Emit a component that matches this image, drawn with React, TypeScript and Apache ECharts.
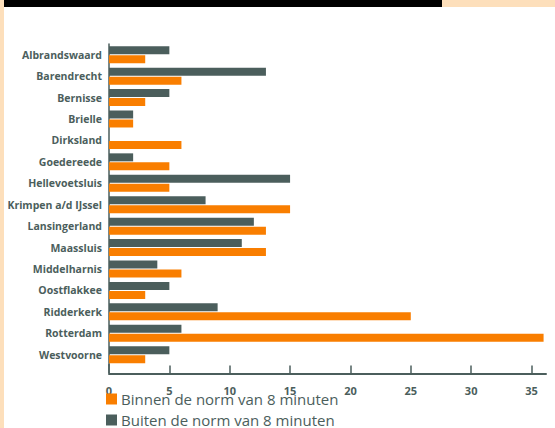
import React, { useEffect, useRef } from "react";
import * as echarts from "echarts";

const categories = [
  "Albrandswaard",
  "Barendrecht",
  "Bernisse",
  "Brielle",
  "Dirksland",
  "Goedereede",
  "Hellevoetsluis",
  "Krimpen a/d IJssel",
  "Lansingerland",
  "Maassluis",
  "Middelharnis",
  "Oostflakkee",
  "Ridderkerk",
  "Rotterdam",
  "Westvoorne",
];
const buitenNorm = [5, 13, 5, 2, 0, 2, 15, 8, 12, 11, 4, 5, 9, 6, 5];
const binnenNorm = [3, 6, 3, 2, 6, 5, 5, 15, 13, 13, 6, 3, 25, 36, 3];
const tickValues = [0, 5, 10, 15, 20, 25, 30, 35];
const seriesNames = ["Binnen de norm van 8 minuten", "Buiten de norm van 8 minuten"];

const DARK = "#4b5e5c";
const ORANGE = "#f97e00";
const PEACH = "#fddfbb";

export default function App() {
  const ref = useRef<HTMLDivElement>(null);
  useEffect(() => {
    document.body.style.margin = "0";
    const chart = echarts.init(ref.current!, null, { renderer: "svg" });
    chart.setOption({
      animation: false,
      backgroundColor: "#ffffff",
      grid: { left: 109, right: 9, top: 44, bottom: 62.6, containLabel: false },
      legend: {
        orient: "vertical",
        left: 106,
        top: 391,
        itemWidth: 11,
        itemHeight: 11,
        itemGap: 5,
        icon: "rect",
        data: seriesNames,
        textStyle: {
          fontFamily: "Open Sans",
          fontSize: 15,
          color: DARK,
          lineHeight: 16,
          padding: [0, 0, 0, -1],
        },
        padding: 0,
      },
      xAxis: {
        type: "value",
        min: 0,
        max: 36.2,
        interval: 5,
        offset: 8,
        splitLine: { show: false },
        axisLine: { show: true, lineStyle: { color: DARK, width: 2 } },
        axisTick: {
          show: true,
          inside: true,
          length: 8,
          lineStyle: { color: DARK, width: 1.5 },
          customValues: tickValues,
        },
        axisLabel: {
          customValues: tickValues,
          margin: 12,
          fontFamily: "Open Sans",
          fontWeight: "bold",
          fontSize: 11,
          color: DARK,
        },
      },
      yAxis: {
        type: "category",
        inverse: true,
        data: categories,
        axisLine: { show: true, lineStyle: { color: DARK, width: 1.5 } },
        axisTick: { show: false },
        axisLabel: {
          margin: 7,
          fontFamily: "Open Sans",
          fontWeight: "bold",
          fontSize: 10.5,
          color: DARK,
        },
      },
      series: [
        {
          name: seriesNames[1],
          type: "bar",
          data: buitenNorm,
          barWidth: 8,
          barGap: "12.5%",
          itemStyle: { color: DARK },
        },
        {
          name: seriesNames[0],
          type: "bar",
          data: binnenNorm,
          barWidth: 8,
          barGap: "12.5%",
          itemStyle: { color: ORANGE },
        },
      ],
      graphic: [
        { type: "rect", shape: { x: 0, y: 0, width: 4, height: 428 }, style: { fill: PEACH } },
        { type: "rect", shape: { x: 4, y: 0, width: 438, height: 7 }, style: { fill: "#000000" } },
        { type: "rect", shape: { x: 442, y: 0, width: 113, height: 7 }, style: { fill: PEACH } },
        {
          type: "line",
          shape: { x1: 109, y1: 364, x2: 109, y2: 373 },
          style: { stroke: DARK, lineWidth: 1.5 },
        },
      ],
    });
    return () => chart.dispose();
  }, []);
  return (
    <div
      ref={ref}
      style={{ position: "absolute", left: 0, top: 0, width: 555, height: 428 }}
    />
  );
}
